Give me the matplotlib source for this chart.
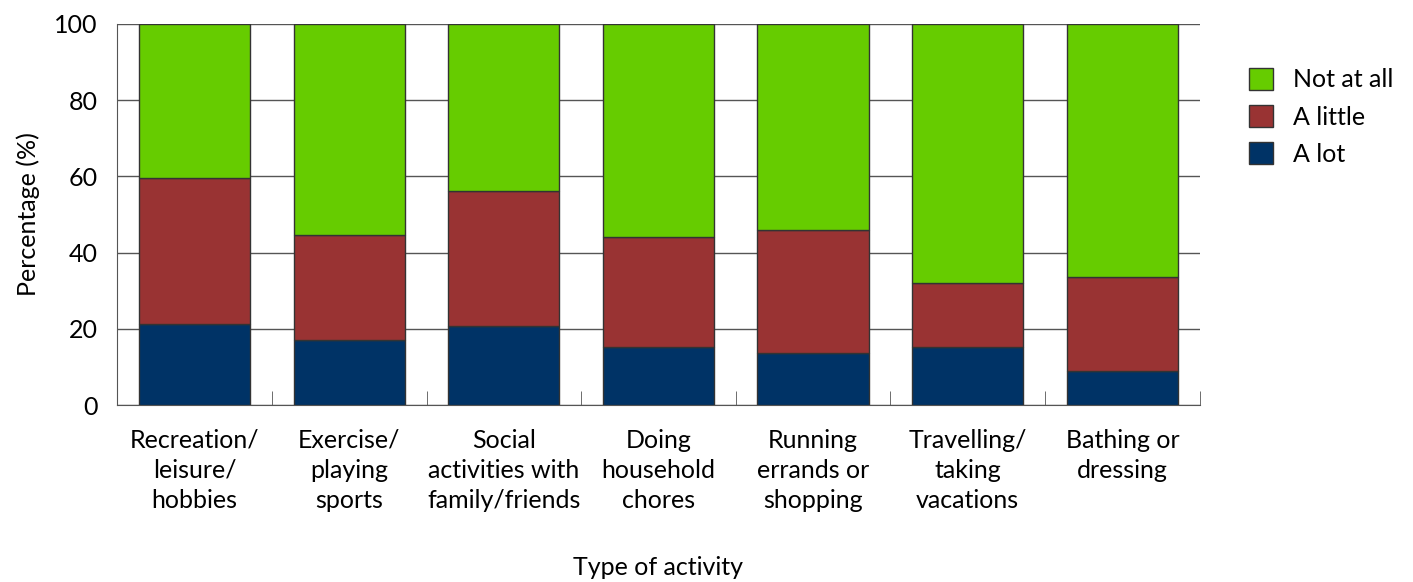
import numpy as np
import matplotlib.pyplot as plt

plt.rcParams['font.family'] = ['Lato', 'DejaVu Sans']

categories = ['Recreation/\nleisure/\nhobbies', 'Exercise/\nplaying\nsports',
              'Social\nactivities with\nfamily/friends', 'Doing\nhousehold\nchores',
              'Running\nerrands or\nshopping', 'Travelling/\ntaking\nvacations',
              'Bathing or\ndressing']
a_lot = [21.3, 17.0, 20.7, 15.3, 13.6, 15.2, 8.9]
a_little = [38.3, 27.5, 35.4, 28.7, 32.4, 16.9, 24.8]
not_at_all = [40.4, 55.5, 43.9, 56.0, 54.0, 67.9, 66.3]

colors = {'A lot': '#003366', 'A little': '#993333', 'Not at all': '#66cc00'}

fig = plt.figure(figsize=(14.13, 5.82), dpi=100)
ax = fig.add_axes([0.083, 0.304, 0.766, 0.655])

x = np.arange(len(categories))
w = 0.72
lot = np.array(a_lot)
little = np.array(a_little)
notall = np.array(not_at_all)

ax.bar(x, lot, w, color=colors['A lot'], edgecolor='#333333', linewidth=1, label='A lot', zorder=3)
ax.bar(x, little, w, bottom=lot, color=colors['A little'], edgecolor='#333333', linewidth=1,
       label='A little', zorder=3)
ax.bar(x, notall, w, bottom=lot + little, color=colors['Not at all'], edgecolor='#333333',
       linewidth=1, label='Not at all', zorder=3)

ax.set_xlim(-0.5, len(categories) - 0.5)
ax.set_ylim(0, 100)
ax.set_yticks([0, 20, 40, 60, 80, 100])
ax.yaxis.grid(True, color='#555555', linewidth=1, zorder=0)
ax.tick_params(axis='y', length=0, labelsize=18, pad=14)

ax.set_xticks(x)
ax.set_xticklabels(categories, fontsize=18, linespacing=1.38)
ax.set_xticks(np.arange(len(categories)) + 0.5, minor=True)
ax.tick_params(axis='x', which='major', length=0, pad=17)
ax.tick_params(axis='x', which='minor', direction='in', length=10, color='#555555')

for s in ['top', 'right']:
    ax.spines[s].set_visible(False)
for s in ['left', 'bottom']:
    ax.spines[s].set_color('#555555')

ax.set_ylabel('Percentage (%)', fontsize=18, labelpad=10)
ax.set_xlabel('Type of activity', fontsize=18)
ax.xaxis.set_label_coords(0.5, -0.395)

handles, labels = ax.get_legend_handles_labels()
ax.legend(handles[::-1], labels[::-1], loc='upper left', bbox_to_anchor=(1.025, 0.943),
          frameon=False, fontsize=18, handlelength=0.95, handleheight=0.95,
          labelspacing=0.55, handletextpad=0.8)

fig.savefig('out.png', dpi=100)
